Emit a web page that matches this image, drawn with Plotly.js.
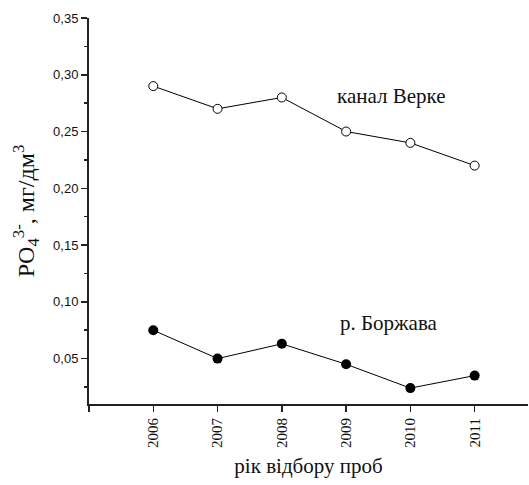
<!DOCTYPE html>
<html><head><meta charset="utf-8">
<script src="https://cdn.plot.ly/plotly-3.0.1.min.js"></script>
<style>html,body{margin:0;padding:0;background:#fff}#c{width:529px;height:485px}</style>
</head><body><div id="c"></div>
<script>
var years = [2006, 2007, 2008, 2009, 2010, 2011];
var verke = [0.29, 0.27, 0.28, 0.25, 0.24, 0.22];
var borzhava = [0.075, 0.05, 0.063, 0.045, 0.024, 0.035];
var xTickText = ['2006', '2007', '2008', '2009', '2010', '2011'];
var yTickVals = [0.05, 0.10, 0.15, 0.20, 0.25, 0.30, 0.35];
var labelVerke = 'канал Верке';
var labelBorzhava = 'р. Боржава';

var serif = 'Liberation Serif';
var sans = 'Liberation Sans';

var traces = [
  {x: years, y: verke, mode: 'lines+markers', type: 'scatter',
   line: {color: '#000', width: 1},
   marker: {symbol: 'circle', size: 9, color: '#fff', line: {color: '#000', width: 1}}},
  {x: years, y: borzhava, mode: 'lines+markers', type: 'scatter',
   line: {color: '#000', width: 1},
   marker: {symbol: 'circle', size: 10, color: '#000', line: {color: '#000', width: 0}}}
];

var layout = {
  width: 529, height: 485,
  margin: {l: 89, r: 1, t: 18, b: 81},
  paper_bgcolor: '#fff', plot_bgcolor: '#fff',
  showlegend: false,
  separators: ', ',
  xaxis: {
    range: [2005, 2011.83], showgrid: false, zeroline: false,
    showline: true, linecolor: '#222', linewidth: 2,
    tickmode: 'array', tickvals: years, ticktext: xTickText,
    ticks: 'outside', ticklen: 6, tickwidth: 1.5, tickcolor: '#222',
    minor: {tickvals: [2005], ticks: 'outside', ticklen: 6, tickwidth: 1.5, tickcolor: '#222'},
    tickangle: -90, tickfont: {family: serif, size: 15, color: '#111'},
    title: {text: 'рік відбору проб', font: {family: serif, size: 21, color: '#111'}, standoff: 11}
  },
  yaxis: {
    range: [0.01, 0.35], showgrid: false, zeroline: false,
    showline: true, linecolor: '#222', linewidth: 2,
    tickmode: 'array', tickvals: yTickVals,
    tickformat: '.2f',
    ticks: 'outside', ticklen: 6, tickwidth: 1.5, tickcolor: '#222',
    minor: {tickvals: [0.025, 0.075, 0.125, 0.175, 0.225, 0.275, 0.325], ticks: 'outside', ticklen: 3, tickwidth: 1.5, tickcolor: '#222'},
    tickfont: {family: sans, size: 13, color: '#111'},
    title: {text: 'PO<sub>4</sub><sup>3-</sup>, мг/дм<sup>3</sup>', font: {family: serif, size: 24, color: '#111'}, standoff: 12}
  },
  annotations: [
    {x: 2009.7, y: 0.281, xref: 'x', yref: 'y', text: labelVerke, showarrow: false,
     font: {family: serif, size: 21, color: '#111'}},
    {x: 2009.67, y: 0.081, xref: 'x', yref: 'y', text: labelBorzhava, showarrow: false,
     font: {family: serif, size: 21, color: '#111'}}
  ]
};
Plotly.newPlot('c', traces, layout, {displayModeBar: false, staticPlot: true});
</script></body></html>
